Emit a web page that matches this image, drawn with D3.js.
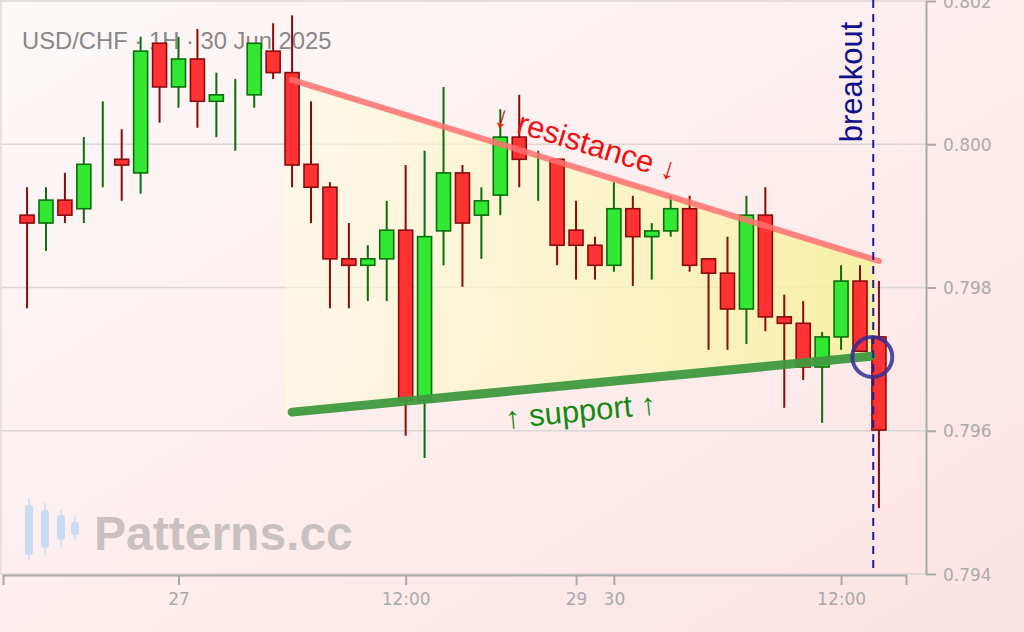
<!DOCTYPE html>
<html>
<head>
<meta charset="utf-8">
<script src="https://cdn.jsdelivr.net/npm/d3@7"></script>
<style>
  html, body { margin: 0; padding: 0; background: #fdf4f4; }
  svg { display: block; }
</style>
</head>
<body>
<div id="chart"></div>
<script>
// USD/CHF 1H candles, 26 Jun 16:00 -> 30 Jun 14:00 (weekend hours skipped)
let opens  = [0.79901,0.79890,0.79922,0.79910,0.79975,0.79979,0.79960,0.80141,0.80080,0.80119,
              0.80060,0.80060,0.80069,0.80130,0.80100,0.79972,0.79940,0.79840,0.79831,0.79840,
              0.79880,0.79642,0.79879,0.79960,0.79901,0.79929,0.80010,0.79979,0.79979,0.79880,
              0.79859,0.79831,0.79910,0.79871,0.79879,0.79910,0.79840,0.79820,0.79770,0.79901,
              0.79759,0.79750,0.79689,0.79731,0.79809,0.79731];
let highs  = [0.79940,0.79940,0.79960,0.80010,0.80060,0.80021,0.80150,0.80141,0.80150,0.80161,
              0.80100,0.80091,0.80141,0.80169,0.80180,0.80060,0.79947,0.79890,0.79859,0.79921,
              0.79971,0.79991,0.80080,0.79971,0.79940,0.80049,0.80069,0.79991,0.79979,0.79921,
              0.79871,0.79947,0.79928,0.79890,0.79928,0.79928,0.79840,0.79871,0.79928,0.79940,
              0.79790,0.79781,0.79738,0.79831,0.79831,0.79809];
let lows   = [0.79771,0.79851,0.79890,0.79890,0.79940,0.79921,0.79931,0.80030,0.80051,0.80023,
              0.80010,0.79991,0.80051,0.80091,0.79940,0.79890,0.79771,0.79771,0.79781,0.79781,
              0.79593,0.79562,0.79831,0.79801,0.79840,0.79901,0.79940,0.79921,0.79831,0.79811,
              0.79811,0.79822,0.79802,0.79811,0.79871,0.79822,0.79713,0.79713,0.79721,0.79739,
              0.79632,0.79671,0.79611,0.79713,0.79711,0.79492];
let closes = [0.79890,0.79922,0.79901,0.79972,0.79975,0.79971,0.80130,0.80080,0.80119,0.80060,
              0.80069,0.80060,0.80141,0.80100,0.79971,0.79940,0.79840,0.79831,0.79840,0.79880,
              0.79642,0.79871,0.79960,0.79890,0.79921,0.80010,0.79979,0.79979,0.79859,0.79859,
              0.79831,0.79910,0.79871,0.79879,0.79910,0.79831,0.79820,0.79770,0.79901,0.79759,
              0.79750,0.79689,0.79731,0.79809,0.79711,0.79601];

// x ticks sit on candle indexes
let xTickIdx    = [8, 20, 29, 31, 43];
let xTickLabels = ['27', '12:00', '29', '30', '12:00'];
let yTicks      = [0.794, 0.796, 0.798, 0.800, 0.802];

// trend lines (candle index, price)
let resistanceIdx   = [14, 45];
let resistancePrice = [0.80090, 0.79837];
let supportIdx      = [14, 44.6];
let supportPrice    = [0.79626, 0.79704];
let zoneIdx         = [13.63, 44.8];
let breakoutIdx     = 44.7;
let breakoutPrice   = 0.79703;

let svgWidth = 1024;
let svgHeight = 632;

let candles = opens.map((o, i) => ({
  i: i, open: o, high: highs[i], low: lows[i], close: closes[i],
  up: closes[i] >= o
}));

let svg = d3.select('#chart').append('svg')
  .attr('width', svgWidth)
  .attr('height', svgHeight);

let defs = svg.append('defs');

let bg = defs.append('linearGradient')
  .attr('id', 'bg').attr('x1', 0).attr('y1', 0).attr('x2', 1).attr('y2', 1);
bg.append('stop').attr('offset', '0%').attr('stop-color', '#fdf9f9');
bg.append('stop').attr('offset', '100%').attr('stop-color', '#fde3e3');

let zone = defs.append('linearGradient')
  .attr('id', 'zone').attr('x1', 0).attr('y1', 0).attr('x2', 1).attr('y2', 0);
zone.append('stop').attr('offset', '0%').attr('stop-color', '#fffbe0').attr('stop-opacity', 0.55);
zone.append('stop').attr('offset', '100%').attr('stop-color', '#f7f29a').attr('stop-opacity', 0.85);

svg.append('rect')
  .attr('width', svgWidth)
  .attr('height', svgHeight)
  .attr('fill', 'url(#bg)');

// scales
let x = d3.scaleLinear().domain([-1.27, 46.43]).range([3, 906]);
let y = d3.scaleLinear().domain([0.794, 0.802]).range([574, 1]);

// grid
svg.append('g').selectAll('line')
  .data(yTicks)
  .enter()
  .append('line')
  .attr('x1', 0).attr('x2', 926)
  .attr('y1', d => y(d)).attr('y2', d => y(d))
  .attr('stroke', '#dcd6d6')
  .attr('stroke-width', 1.5);

svg.append('line')
  .attr('x1', 1).attr('x2', 1).attr('y1', 0).attr('y2', 575)
  .attr('stroke', '#e2dada').attr('stroke-width', 1.5);

// title
svg.append('text')
  .attr('x', 22).attr('y', 49)
  .attr('font-family', 'Liberation Sans, Arial, sans-serif')
  .attr('font-size', '23.8px')
  .attr('fill', '#8a8686')
  .text('USD/CHF · 1H · 30 Jun 2025');

// watermark
let logo = svg.append('g').attr('fill', '#c9dcf4').attr('stroke', '#c9dcf4');
[[29, 498, 560, 505, 555], [45, 503, 555, 510, 548], [61, 510, 547, 515, 540], [75, 516, 540, 522, 535]]
  .forEach(c => {
    logo.append('line').attr('x1', c[0]).attr('x2', c[0]).attr('y1', c[1]).attr('y2', c[2]).attr('stroke-width', 1.5);
    logo.append('rect').attr('x', c[0] - 4).attr('y', c[3]).attr('width', 8).attr('height', c[4] - c[3])
      .attr('rx', 3).attr('stroke', 'none');
  });
svg.append('text')
  .attr('x', 94).attr('y', 550)
  .attr('font-family', 'Liberation Sans, Arial, sans-serif')
  .attr('font-weight', 'bold')
  .attr('font-size', '48px')
  .attr('fill', '#c9c1c1')
  .text('Patterns.cc');

// triangle zone
let resLine = d3.scaleLinear().domain(resistanceIdx).range(resistancePrice);
let supLine = d3.scaleLinear().domain(supportIdx).range(supportPrice);
let zonePts = [
  [x(zoneIdx[0]), y(resLine(zoneIdx[0]))],
  [x(zoneIdx[1]), y(resLine(zoneIdx[1]))],
  [x(zoneIdx[1]), y(supLine(zoneIdx[1]))],
  [x(zoneIdx[0]), y(supLine(zoneIdx[0]))]
];
svg.append('path')
  .attr('d', d3.line()(zonePts) + 'Z')
  .attr('fill', 'url(#zone)');

// axes
let rightAxis = d3.axisRight(y)
  .tickValues(yTicks)
  .tickFormat(d3.format('.3f'))
  .tickSize(10)
  .tickSizeOuter(0);
let yAxis = svg.append('g')
  .attr('transform', 'translate(926, 0)')
  .call(rightAxis);

let bottomAxis = d3.axisBottom(x)
  .tickValues(xTickIdx)
  .tickFormat((d, k) => xTickLabels[k])
  .tickSize(10)
  .tickSizeOuter(10);
let xAxis = svg.append('g')
  .attr('transform', 'translate(0, 575)')
  .call(bottomAxis);

[xAxis, yAxis].forEach(a => {
  a.select('.domain').attr('stroke', '#aaa').attr('stroke-width', 2);
  a.selectAll('.tick line').attr('stroke', '#aaa').attr('stroke-width', 2);
  a.selectAll('.tick text')
    .attr('font-family', 'DejaVu Sans, sans-serif')
    .attr('font-size', '17px')
    .attr('fill', '#aaa');
});
yAxis.selectAll('.tick text').attr('x', 17).attr('dy', '0.36em');
xAxis.selectAll('.tick text').attr('y', 18);

// candles
let candleGroup = svg.append('g');

candleGroup.selectAll('.wick')
  .data(candles)
  .enter()
  .append('line')
  .classed('wick', true)
  .attr('x1', d => x(d.i)).attr('x2', d => x(d.i))
  .attr('y1', d => y(d.high)).attr('y2', d => y(d.low))
  .attr('stroke', d => d.up ? '#0a6e0a' : '#8b0a0a')
  .attr('stroke-width', 2);

candleGroup.selectAll('.body')
  .data(candles.filter(d => d.open !== d.close))
  .enter()
  .append('rect')
  .classed('body', true)
  .attr('x', d => x(d.i) - 7)
  .attr('y', d => y(Math.max(d.open, d.close)))
  .attr('width', 14)
  .attr('height', d => Math.abs(y(d.open) - y(d.close)))
  .attr('fill', d => d.up ? '#33e833' : '#ff3333')
  .attr('stroke', d => d.up ? '#0a6e0a' : '#8b0a0a')
  .attr('stroke-width', 1.6);

// trend lines
svg.append('line')
  .attr('x1', x(resistanceIdx[0])).attr('y1', y(resistancePrice[0]))
  .attr('x2', x(resistanceIdx[1])).attr('y2', y(resistancePrice[1]))
  .attr('stroke', '#ff7070')
  .attr('stroke-opacity', 0.85)
  .attr('stroke-width', 6)
  .attr('stroke-linecap', 'round');

svg.append('line')
  .attr('x1', x(supportIdx[0])).attr('y1', y(supportPrice[0]))
  .attr('x2', x(supportIdx[1])).attr('y2', y(supportPrice[1]))
  .attr('stroke', '#3f993f')
  .attr('stroke-opacity', 0.95)
  .attr('stroke-width', 9)
  .attr('stroke-linecap', 'round');

// labels along the lines
function lineAngle(idx, price) {
  let dx = x(idx[1]) - x(idx[0]);
  let dy = y(price[1]) - y(price[0]);
  return Math.atan2(dy, dx) * 180 / Math.PI;
}

let labelX = 578;
let resIdxAt = x.invert(labelX);
svg.append('text')
  .attr('transform', `translate(${labelX}, ${y(resLine(resIdxAt))}) rotate(${lineAngle(resistanceIdx, resistancePrice)})`)
  .attr('y', -16)
  .attr('text-anchor', 'middle')
  .attr('font-family', 'Liberation Sans, Arial, sans-serif')
  .attr('font-size', '31px')
  .attr('fill', '#ee1111')
  .text('↓ resistance ↓');

svg.append('text')
  .attr('transform', `translate(${labelX}, ${y(supLine(resIdxAt))}) rotate(${lineAngle(supportIdx, supportPrice)})`)
  .attr('y', 37)
  .attr('text-anchor', 'middle')
  .attr('font-family', 'Liberation Sans, Arial, sans-serif')
  .attr('font-size', '31px')
  .attr('fill', '#138a13')
  .text('↑ support ↑');

// breakout marker
svg.append('line')
  .attr('x1', x(breakoutIdx)).attr('x2', x(breakoutIdx))
  .attr('y1', 0).attr('y2', 574)
  .attr('stroke', '#1c1c9a')
  .attr('stroke-width', 2)
  .attr('stroke-dasharray', '8,6');

svg.append('text')
  .attr('transform', `translate(${x(breakoutIdx) - 11}, 82) rotate(-90)`)
  .attr('text-anchor', 'middle')
  .attr('font-family', 'Liberation Sans, Arial, sans-serif')
  .attr('font-size', '31px')
  .attr('fill', '#10108a')
  .text('breakout');

svg.append('circle')
  .attr('cx', x(44.65)).attr('cy', y(breakoutPrice))
  .attr('r', 20)
  .attr('fill', 'none')
  .attr('stroke', '#2e2e96')
  .attr('stroke-opacity', 0.85)
  .attr('stroke-width', 4);
</script>
</body>
</html>
